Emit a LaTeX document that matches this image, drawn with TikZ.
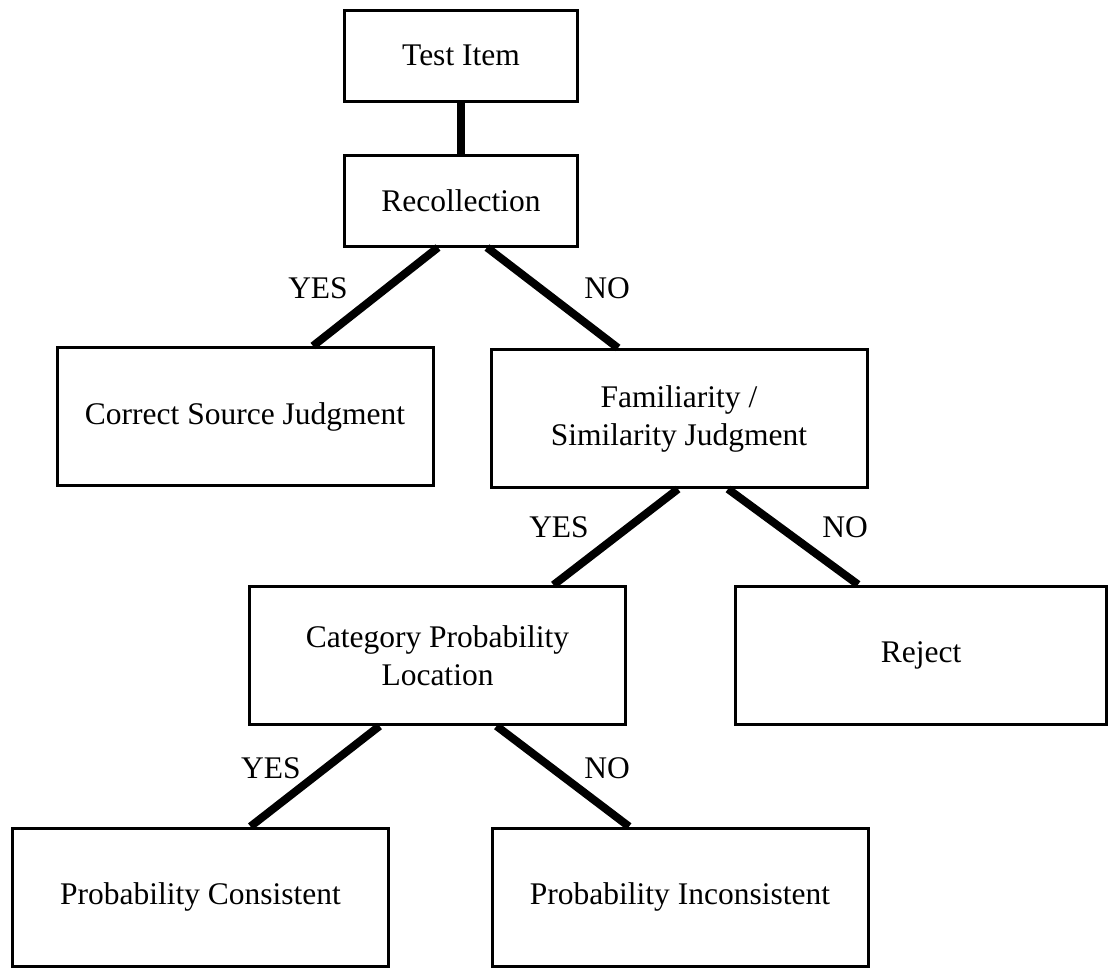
\documentclass[tikz,border=0pt]{standalone}
\usepackage{fontspec}
\setmainfont{Liberation Serif}
\usetikzlibrary{positioning}
\newcommand\treefont{\fontsize{31.5pt}{38pt}\selectfont}

\begin{document}
\begin{tikzpicture}[
		x=1pt, y=-1pt,
		font=\treefont,
		smallbox/.style={draw, line width=3pt, inner sep=0pt, align=center, minimum width=233pt, minimum height=91pt},
		bigbox/.style={draw, line width=3pt, inner sep=0pt, align=center, minimum width=376pt, minimum height=138pt},
		branch/.style={line width=8pt},
		answer/.style={inner sep=0pt},
	]
		\useasboundingbox (0,0) rectangle (1110,969);

		\node (tst) [smallbox] at (461,55.5) {Test Item};
		\node (rec) [smallbox, below=51pt of tst] {Recollection};
		\node (csj) [bigbox] at (245,416.5) {Correct Source Judgment};
		\node (fsj) [bigbox] at (679,418.5) {Familiarity /\\ Similarity Judgment};
		\node (cpl) [bigbox] at (437.5,655.5) {Category Probability\\ Location};
		\node (rej) [bigbox, minimum width=371pt] at (921,655) {Reject};
		\node (pcon) [bigbox] at (200.5,897) {Probability Consistent};
		\node (pinc) [bigbox] at (680,897) {Probability Inconsistent};

		\draw[branch] (tst.south) -- (rec.north);
		\draw[branch] ([xshift=-23pt]rec.south) -- ([xshift=68pt]csj.north);
		\draw[branch] ([xshift=26pt]rec.south) -- ([xshift=-61pt]fsj.north);
		\draw[branch] ([xshift=-1pt]fsj.south) -- ([xshift=116pt]cpl.north);
		\draw[branch] ([xshift=49pt]fsj.south) -- ([xshift=-63pt]rej.north);
		\draw[branch] ([xshift=-58pt]cpl.south) -- ([xshift=50pt]pcon.north);
		\draw[branch] ([xshift=59pt]cpl.south) -- ([xshift=-51pt]pinc.north);

		\node (yes1) [answer] at (318,288) {YES};
		\node (no1) [answer] at (607,288) {NO};
		\node (yes2) [answer] at (559,527) {YES};
		\node (no2) [answer] at (845,527) {NO};
		\node (yes3) [answer] at (271,768) {YES};
		\node (no3) [answer] at (607,768) {NO};
	\end{tikzpicture}
\end{document}
